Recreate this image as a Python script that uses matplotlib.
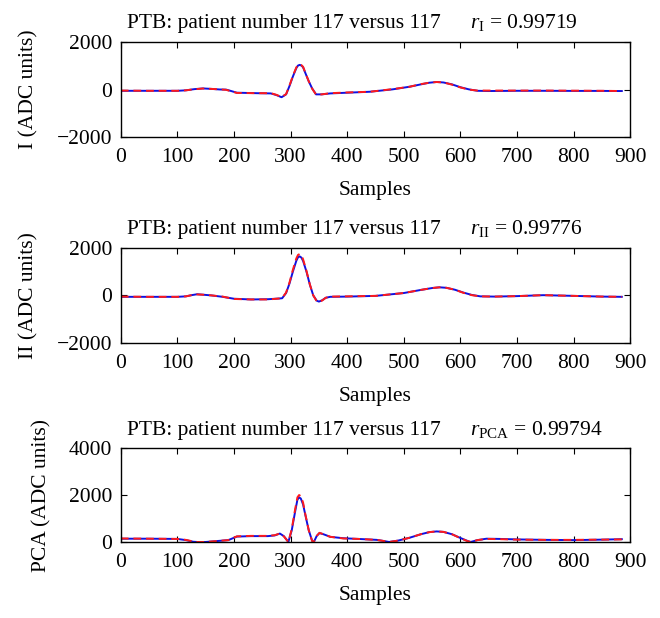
import numpy as np
import matplotlib
matplotlib.use("Agg")
import matplotlib.pyplot as plt

plt.rcParams['font.family'] = ['Liberation Serif', 'DejaVu Serif']
plt.rcParams['mathtext.fontset'] = 'custom'
plt.rcParams['mathtext.rm'] = 'Liberation Serif'
plt.rcParams['mathtext.it'] = 'Liberation Serif:italic'

# Отведение I
samples_I = [0, 50, 100, 115, 130, 145, 160, 175, 186, 195, 205, 240, 265, 275, 284,
             292, 298, 304, 310, 313, 316, 319, 322, 326, 332, 338, 345, 355, 370, 400, 440,
             480, 510, 530, 545, 558, 570, 585, 600, 615, 630, 650, 700, 750, 800, 850, 885]
blue_I = [-50, -50, -50, -30, 20, 50, 30, 5, 0, -60, -130, -150, -160, -230, -320,
          -200, 150, 550, 900, 1010, 1040, 1010, 940, 700, 350, 50, -200, -200, -160, -130, -90,
          10, 120, 220, 290, 320, 300, 220, 100, 10, -50, -60, -50, -50, -55, -55, -60]
red_I = [-40, -50, -50, -30, 15, 45, 30, 10, -10, -70, -140, -150, -150, -220, -310,
         -190, 170, 580, 930, 1040, 1060, 1030, 960, 710, 350, 40, -210, -200, -150, -120, -90,
         20, 120, 230, 290, 320, 300, 210, 90, 0, -40, -40, -40, -40, -45, -50, -60]

# Отведение II
samples_II = [0, 50, 100, 115, 125, 135, 145, 160, 180, 200, 230, 260, 280, 285, 292,
              298, 304, 310, 313, 316, 319, 322, 328, 334, 340, 346, 350, 356, 362, 370, 400,
              450, 500, 530, 550, 563, 575, 590, 605, 620, 635, 660, 700, 746, 800, 850, 885]
blue_II = [-60, -60, -60, -40, 10, 50, 30, 0, -60, -140, -170, -160, -130, -120, 100,
           500, 1000, 1450, 1600, 1640, 1590, 1450, 1000, 450, 0, -220, -260, -200, -100, -60, -50,
           -20, 100, 230, 310, 340, 320, 240, 120, 20, -40, -50, -30, 10, -20, -50, -60]
red_II = [-50, -60, -60, -40, 10, 40, 30, 0, -50, -150, -170, -170, -130, -110, 120,
          540, 1080, 1550, 1700, 1740, 1690, 1520, 1030, 460, 0, -240, -280, -210, -100, -50, -40,
          -20, 100, 230, 310, 340, 320, 240, 110, 10, -40, -50, -30, 10, -20, -50, -60]

# PCA
samples_PCA = [0, 50, 100, 115, 128, 135, 150, 170, 190, 205, 230, 260, 272, 281, 288,
               296, 302, 308, 312, 315, 318, 322, 326, 332, 338, 341, 346, 351, 358, 370, 393,
               420, 452, 465, 474, 490, 510, 530, 545, 558, 570, 585, 600, 612, 618,
               630, 646, 670, 700, 750, 800, 850, 885]
blue_PCA = [140, 140, 130, 80, 10, 0, 0, 40, 80, 230, 250, 250, 280, 360, 250,
            0, 500, 1300, 1800, 1900, 1850, 1600, 1150, 500, 50, 0, 250, 380, 330, 220, 160,
            130, 90, 40, 0, 60, 180, 330, 420, 450, 430, 330, 170, 50, 0,
            80, 140, 130, 110, 90, 80, 100, 120]
red_PCA = [150, 140, 130, 90, 20, 0, 0, 40, 80, 240, 260, 260, 290, 360, 240,
           0, 550, 1400, 1900, 2000, 1950, 1680, 1180, 500, 40, 0, 260, 390, 330, 220, 150,
           130, 90, 40, 0, 60, 180, 330, 420, 450, 430, 330, 160, 40, 0,
           80, 130, 120, 100, 90, 90, 100, 110]

titles = ["PTB: patient number 117 versus 117"] * 3
r_labels = [r"$r_{\mathrm{I}}$ = 0.99719",
            r"$r_{\mathrm{II}}$ = 0.99776",
            r"$r_{\mathrm{PCA}}$ = 0.99794"]
ylabels = ["I (ADC units)", "II (ADC units)", "PCA (ADC units)"]
ylims = [(-2000, 2000), (-2000, 2000), (0, 4000)]
yticks = [[-2000, 0, 2000], [-2000, 0, 2000], [0, 2000, 4000]]

series = [(samples_I, blue_I, red_I),
          (samples_II, blue_II, red_II),
          (samples_PCA, blue_PCA, red_PCA)]

fig = plt.figure(figsize=(6.6, 6.18), dpi=100)
positions = [[0.183, 0.778, 0.772, 0.154],
             [0.183, 0.445, 0.772, 0.154],
             [0.183, 0.123, 0.772, 0.152]]

fs = 15.5
for i in range(3):
    ax = fig.add_axes(positions[i])
    s, b, r = series[i]
    ax.plot(s, b, color='#1010e0', linewidth=1.4)
    ax.plot(s, r, color='#ff1a1a', linestyle=(0, (4, 2.5)), linewidth=1.4)
    ax.set_xlim(0, 900)
    ax.set_ylim(*ylims[i])
    ax.set_xticks(np.arange(0, 901, 100))
    ax.set_yticks(yticks[i])
    ax.tick_params(direction='in', top=True, right=True, labelsize=fs,
                   length=4, width=0.8)
    ax.tick_params(axis='x', pad=8)
    ax.tick_params(axis='y', pad=6)
    for sp in ax.spines.values():
        sp.set_linewidth(1.0)
    ax.set_xlabel("Samples", fontsize=fs, labelpad=10)
    ax.set_ylabel(ylabels[i], fontsize=fs, labelpad=13)
    ax.text(0.012, 1.09, titles[i], transform=ax.transAxes, fontsize=fs, ha='left', va='bottom')
    ax.text(0.686, 1.09, r_labels[i], transform=ax.transAxes, fontsize=fs, ha='left', va='bottom')

fig.savefig("out.png", dpi=100)
